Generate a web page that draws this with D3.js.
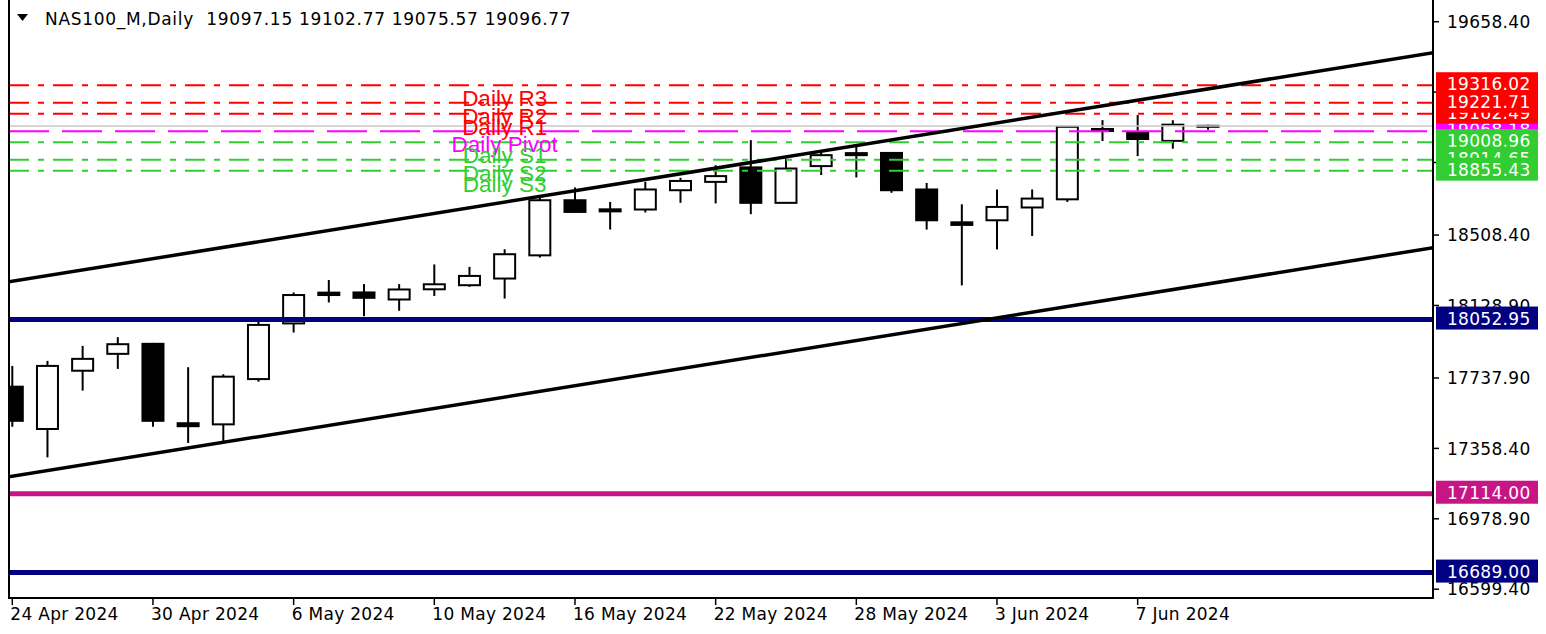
<!DOCTYPE html>
<html>
<head>
<meta charset="utf-8">
<script src="https://cdn.jsdelivr.net/npm/d3@7"></script>
<style>
  body { margin: 0; background: #fff; }
  svg text { font-family: "DejaVu Sans", sans-serif; }
</style>
</head>
<body>
<svg id="chart"></svg>
<script>
// chart data
const symbolName = "NAS100_M,Daily";

const dates = [
  "2024-04-24", "2024-04-25", "2024-04-26", "2024-04-29", "2024-04-30",
  "2024-05-01", "2024-05-02", "2024-05-03", "2024-05-06", "2024-05-07",
  "2024-05-08", "2024-05-09", "2024-05-10", "2024-05-13", "2024-05-14",
  "2024-05-15", "2024-05-16", "2024-05-17", "2024-05-20", "2024-05-21",
  "2024-05-22", "2024-05-23", "2024-05-24", "2024-05-27", "2024-05-28",
  "2024-05-29", "2024-05-30", "2024-05-31", "2024-06-03", "2024-06-04",
  "2024-06-05", "2024-06-06", "2024-06-07", "2024-06-10", "2024-06-11",
];
const opens = [
  17691, 17463, 17777, 17868, 17922, 17494, 17488, 17732, 18032, 18198,
  18199, 18161, 18216, 18238, 18274, 18399, 18696, 18647, 18646, 18750,
  18795, 18873, 18682, 18880, 18950, 18951, 18754, 18577, 18588, 18657,
  18701, 19080, 19060, 19016, 19097.15,
];
const highs = [
  17803, 17830, 17911, 17958, 17927, 17796, 17758, 18042, 18199, 18266,
  18244, 18244, 18350, 18337, 18432, 18713, 18765, 18687, 18795, 18817,
  18885, 19020, 18921, 18955, 18993, 18955, 18789, 18674, 18754, 18754,
  19096, 19128, 19155, 19127.40, 19102.77,
];
const lows = [
  17475, 17310, 17670, 17787, 17475, 17388, 17388, 17718, 17983, 18145,
  18071, 18100, 18180, 18229, 18166, 18387, 18631, 18538, 18630, 18682,
  18679, 18621, 18680, 18832, 18819, 18736, 18538, 18237, 18431, 18503,
  18687, 19015, 18934, 18973.87, 19075.57,
];
const closes = [
  17507, 17803, 17841, 17920, 17507, 17478, 17745, 18024, 18185, 18185,
  18170, 18215, 18243, 18288, 18405, 18696, 18633, 18636, 18754, 18800,
  18826, 18682, 18867, 18939, 18939, 18750, 18588, 18563, 18660, 18705,
  19092, 19069, 19026, 19103.27, 19096.77,
];

const priceTicks = [19658.40, 19278.90, 18899.40, 18508.40, 18128.90, 17737.90, 17358.40, 16978.90, 16599.40];
const dateTicks = ["2024-04-24", "2024-04-30", "2024-05-06", "2024-05-10", "2024-05-16", "2024-05-22", "2024-05-28", "2024-06-03", "2024-06-07"];

// daily pivot levels, in the order the indicator draws them
const pivotNames = ["Daily Pivot", "Daily R1", "Daily S1", "Daily R2", "Daily S2", "Daily R3", "Daily S3"];
const pivotValues = [19068.18, 19162.49, 19008.96, 19221.71, 18914.65, 19316.02, 18855.43];
const pivotLabelDate = "2024-05-14";

// horizontal levels drawn by hand
const levelValues = [18052.95, 17114.00, 16689.00];
const levelColors = ["#000080", "#C71585", "#000080"];

// channel lines: [date, price] anchors
const upperChannel = [["2024-04-24", 18259], ["2024-06-11", 19296]];
const lowerChannel = [["2024-04-24", 17208], ["2024-06-11", 18245]];

class CandleChart {
  constructor(_config) {
    this.config = {
      parentElement: _config.parentElement,
      containerWidth: 1546,
      containerHeight: 634,
      plot: { left: 9, right: 1433, top: 0, bottom: 598 },
      pivotColors: { P: "#FF00FF", R: "#FF0000", S: "#32CD32" },
    };
    this.initVis();
  }

  initVis() {
    let vis = this;
    const p = vis.config.plot;

    vis.svg = d3
      .select(vis.config.parentElement)
      .attr("width", vis.config.containerWidth)
      .attr("height", vis.config.containerHeight);

    vis.svg.append("rect")
      .attr("width", vis.config.containerWidth)
      .attr("height", vis.config.containerHeight)
      .attr("fill", "#fff");

    vis.svg.append("clipPath").attr("id", "plot-clip")
      .append("rect")
      .attr("x", p.left).attr("y", p.top)
      .attr("width", p.right - p.left).attr("height", p.bottom - p.top);

    // bar index -> x, price -> y
    vis.xScale = d3.scaleLinear().domain([0, dates.length - 1]).range([12.3, 1208]);
    vis.yScale = d3.scaleLinear().domain([19658.4, 16599.4]).range([21.7, 589.2]);

    vis.plotG = vis.svg.append("g").attr("clip-path", "url(#plot-clip)");
    vis.axisG = vis.svg.append("g");

    vis.renderVis();
  }

  renderVis() {
    let vis = this;
    const p = vis.config.plot;
    const x = vis.xScale, y = vis.yScale;
    const idx = (d) => dates.indexOf(d);

    const candles = dates.map((d, i) => ({
      date: d, i, o: opens[i], h: highs[i], l: lows[i], c: closes[i],
    }));

    // candles
    const cg = vis.plotG.selectAll(".candle").data(candles).join("g").attr("class", "candle");
    cg.append("line")
      .attr("x1", (d) => x(d.i)).attr("x2", (d) => x(d.i))
      .attr("y1", (d) => y(d.h)).attr("y2", (d) => y(d.l))
      .attr("stroke", "#000").attr("stroke-width", 2);
    cg.append("rect")
      .attr("x", (d) => x(d.i) - 10.5)
      .attr("width", 21)
      .attr("y", (d) => y(Math.max(d.o, d.c)))
      .attr("height", (d) => Math.max(Math.abs(y(d.o) - y(d.c)), 1))
      .attr("fill", (d) => (d.c >= d.o ? "#fff" : "#000"))
      .attr("stroke", "#000").attr("stroke-width", 2);

    // pivot lines
    const pivotColor = (name) => vis.config.pivotColors[name.includes("Pivot") ? "P" : name.slice(-2, -1)];
    vis.plotG.selectAll(".pivot-line").data(pivotNames).join("line")
      .attr("class", "pivot-line")
      .attr("x1", p.left).attr("x2", p.right)
      .attr("y1", (d, i) => y(pivotValues[i])).attr("y2", (d, i) => y(pivotValues[i]))
      .attr("stroke", pivotColor)
      .attr("stroke-width", 2)
      .attr("stroke-dasharray", (d) => (d.includes("Pivot") ? "40,13" : "20,9,6,9"));

    // bid line
    const bid = closes[closes.length - 1];
    vis.plotG.append("line")
      .attr("x1", p.left).attr("x2", p.right)
      .attr("y1", y(bid)).attr("y2", y(bid))
      .attr("stroke", "#c8c8c8").attr("stroke-width", 1.5);

    // horizontal levels
    vis.plotG.selectAll(".level-line").data(levelValues).join("line")
      .attr("class", "level-line")
      .attr("x1", p.left).attr("x2", p.right + 4)
      .attr("y1", (d) => y(d)).attr("y2", (d) => y(d))
      .attr("stroke", (d, i) => levelColors[i]).attr("stroke-width", 5);

    // channel rays
    const channelLine = (pts) => {
      const i0 = idx(pts[0][0]), i1 = idx(pts[1][0]);
      const slope = (pts[1][1] - pts[0][1]) / (i1 - i0);
      const a = -2, b = 42;
      return [[x(a), y(pts[0][1] + slope * (a - i0))], [x(b), y(pts[0][1] + slope * (b - i0))]];
    };
    vis.plotG.selectAll(".channel").data([upperChannel, lowerChannel]).join("path")
      .attr("class", "channel")
      .attr("d", (d) => d3.line()(channelLine(d)))
      .attr("stroke", "#000").attr("stroke-width", 3.5).attr("fill", "none");

    // pivot labels on chart
    vis.plotG.selectAll(".pivot-label").data(pivotNames).join("text")
      .attr("class", "pivot-label")
      .attr("x", x(idx(pivotLabelDate)))
      .attr("y", (d, i) => y(pivotValues[i]) + 21)
      .attr("text-anchor", "middle")
      .style("font-family", "'Liberation Sans', Arial, sans-serif")
      .style("font-size", "22.5px")
      .attr("fill", pivotColor)
      .text((d) => d);

    // frame
    vis.axisG.append("path")
      .attr("d", `M${p.left},0 V${p.bottom} H${p.right} V0`)
      .attr("fill", "none").attr("stroke", "#000").attr("stroke-width", 2);

    // price axis
    vis.axisG.selectAll(".ptick").data(priceTicks).join("line")
      .attr("class", "ptick")
      .attr("x1", p.right).attr("x2", p.right + 6)
      .attr("y1", (d) => Math.min(y(d), 590)).attr("y2", (d) => Math.min(y(d), 590))
      .attr("stroke", "#000").attr("stroke-width", 1.5);
    vis.axisG.selectAll(".plabel").data(priceTicks).join("text")
      .attr("class", "plabel")
      .attr("x", 1447)
      .attr("y", (d) => Math.min(y(d), 590))
      .attr("dy", "0.36em")
      .style("font-size", "17px").style("letter-spacing", "0.3px")
      .attr("fill", "#000")
      .text((d) => d.toFixed(2));

    // value boxes on the price axis
    const boxes = pivotNames.map((n, i) => ({ v: pivotValues[i], color: pivotColor(n) }))
      .concat(levelValues.map((v, i) => ({ v, color: levelColors[i] })));
    const bg = vis.axisG.selectAll(".vbox").data(boxes).join("g").attr("class", "vbox");
    bg.append("rect")
      .attr("x", 1436).attr("width", 102)
      .attr("y", (d) => y(d.v) - 13).attr("height", 23)
      .attr("fill", (d) => d.color);
    bg.append("text")
      .attr("x", 1447).attr("y", (d) => y(d.v) - 1).attr("dy", "0.36em")
      .style("font-size", "17px").style("letter-spacing", "0.3px")
      .attr("fill", "#fff")
      .text((d) => d.v.toFixed(2));

    // date axis
    const fmt = d3.timeFormat("%-d %b %Y");
    const parse = d3.timeParse("%Y-%m-%d");
    vis.axisG.selectAll(".dtick").data(dateTicks).join("line")
      .attr("class", "dtick")
      .attr("x1", (d) => x(idx(d))).attr("x2", (d) => x(idx(d)))
      .attr("y1", p.bottom).attr("y2", p.bottom + 7)
      .attr("stroke", "#000").attr("stroke-width", 1.5);
    vis.axisG.selectAll(".dlabel").data(dateTicks).join("text")
      .attr("class", "dlabel")
      .attr("x", (d) => x(idx(d)) - 2)
      .attr("y", 620)
      .style("font-size", "17px").style("letter-spacing", "0.3px")
      .attr("fill", "#000")
      .text((d) => fmt(parse(d)));

    // title
    const last = candles[candles.length - 1];
    vis.svg.append("path").attr("d", "M17,14 L28,14 L22.5,21 Z").attr("fill", "#000");
    vis.svg.append("text")
      .attr("x", 45).attr("y", 25)
      .style("font-size", "17px").style("letter-spacing", "0.7px")
      .attr("fill", "#000")
      .attr("xml:space", "preserve")
      .text(`${symbolName}  ${[last.o, last.h, last.l, last.c].map((v) => v.toFixed(2)).join(" ")}`);
  }
}

new CandleChart({ parentElement: "#chart" });
</script>
</body>
</html>
